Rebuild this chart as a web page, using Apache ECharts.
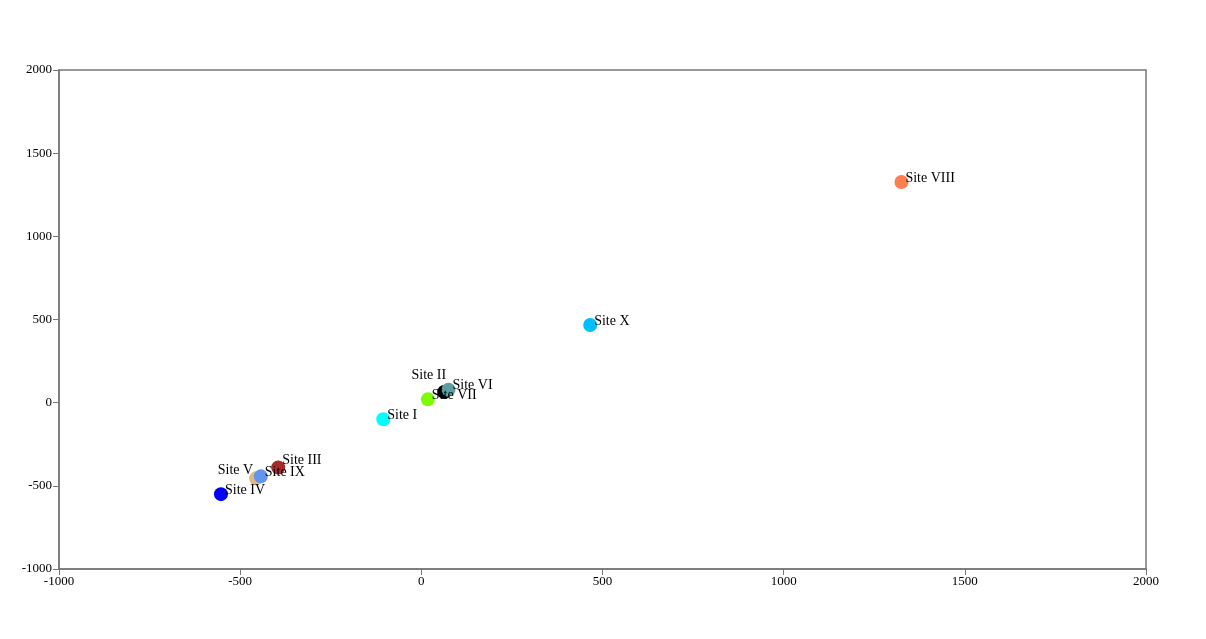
<!DOCTYPE html>
<html>
<head>
<meta charset="utf-8">
<script src="https://cdn.jsdelivr.net/npm/echarts@6/dist/echarts.min.js"></script>
<style>html,body{margin:0;padding:0;background:#fff}#c{width:1206px;height:639px}</style>
</head>
<body>
<div id="c"></div>
<script>
const siteNames = ['Site I','Site II','Site III','Site IV','Site V','Site VI','Site VII','Site VIII','Site IX','Site X'];
const xValues = [-105, 63, -395, -553, -456, 75, 18, 1325, -443, 466];
const yValues = [-100, 64, -390, -550, -455, 78, 20, 1327, -443, 467];
const siteColors = ['#00ffff','#000000','#a52a2a','#0000ff','#deb887','#5f9ea0','#7cfc00','#ff7f50','#6495ed','#00bfff'];
const xTicks = [-1000, -500, 0, 500, 1000, 1500, 2000];
const yTicks = [-1000, -500, 0, 500, 1000, 1500, 2000];

const FONT = '"Liberation Serif","Times New Roman",serif';
const SYM = 14;
function labelFor(name) {
  if (name === 'Site II') return { position: [SYM/2 + 2, SYM/2 - 17], align: 'right' };
  if (name === 'Site V') return { position: [SYM/2 - 3, SYM/2 - 8], align: 'right' };
  if (name === 'Site III') return { position: [SYM/2 + 4, SYM/2 - 7], align: 'left' };
  return { position: [SYM/2 + 4, SYM/2 - 4], align: 'left' };
}
const data = siteNames.map((n, i) => {
  const l = labelFor(n);
  return {
    name: n,
    value: [xValues[i], yValues[i]],
    itemStyle: { color: siteColors[i], opacity: 1 },
    label: { show: true, formatter: n, position: l.position, align: l.align, verticalAlign: 'middle',
             color: '#000', fontFamily: FONT, fontSize: 14 }
  };
});

const axisCommon = {
  type: 'value', interval: 500,
  axisLine: { show: true, onZero: false, lineStyle: { color: '#777', width: 1.5 } },
  axisTick: { show: true, length: 6, lineStyle: { color: '#777', width: 1 } },
  splitLine: { show: false },
};
const chart = echarts.init(document.getElementById('c'));
chart.setOption({
  animation: false,
  grid: { left: 59, right: 60, top: 70, bottom: 70, show: true, borderColor: '#777', borderWidth: 1.5, backgroundColor: 'transparent' },
  xAxis: Object.assign({}, axisCommon, {
    min: xTicks[0], max: xTicks[xTicks.length-1],
    axisLabel: { color: '#000', fontFamily: FONT, fontSize: 13, margin: 6, formatter: v => String(v) }
  }),
  yAxis: Object.assign({}, axisCommon, {
    min: yTicks[0], max: yTicks[yTicks.length-1],
    axisLabel: { color: '#000', fontFamily: FONT, fontSize: 13, margin: 7, formatter: v => String(v) }
  }),
  series: [{
    type: 'scatter',
    symbol: 'circle',
    symbolSize: SYM,
    data: data,
    labelLayout: { hideOverlap: false }
  }]
});
</script>
</body>
</html>
